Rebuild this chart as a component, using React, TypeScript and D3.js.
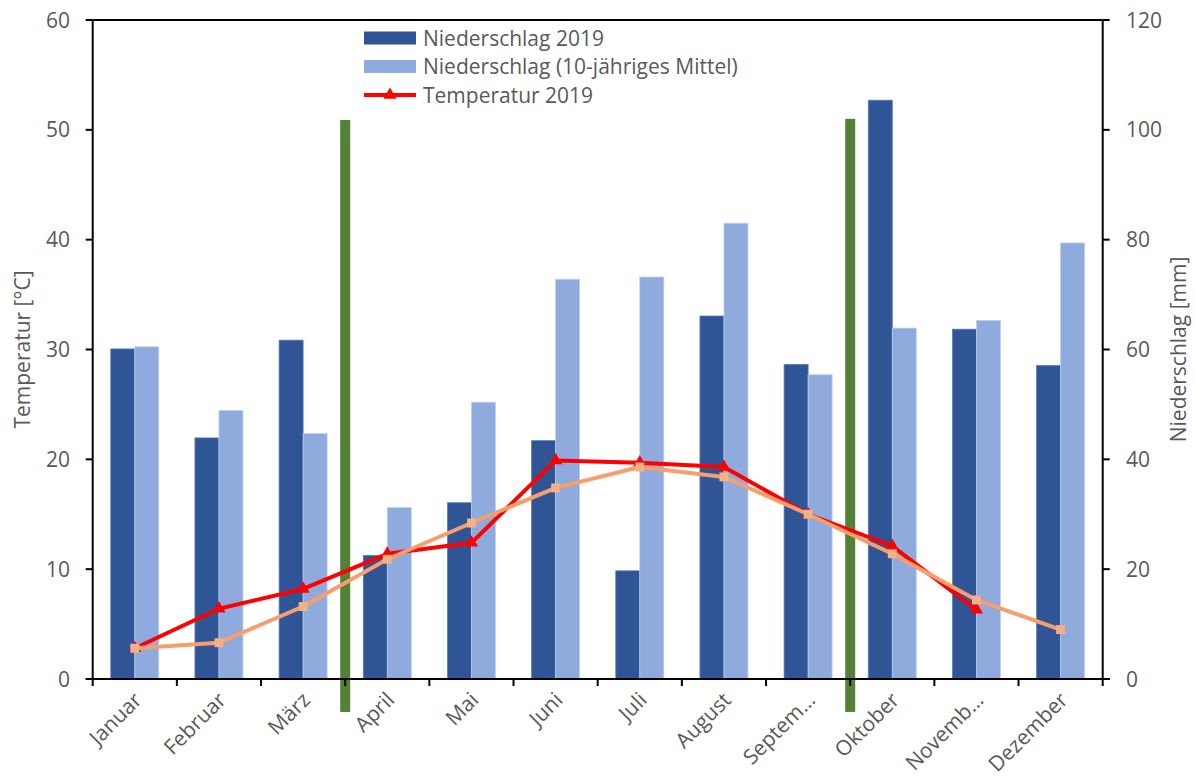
import React from "react";
import * as d3 from "d3";

// Monthly categories (labels as shown on the axis)
const months = [
  "Januar", "Februar", "März", "April", "Mai", "Juni",
  "Juli", "August", "Septem…", "Oktober", "Novemb…", "Dezember",
];

// Precipitation in mm (right axis)
const precip2019 = [60.1, 43.9, 61.7, 22.5, 32.1, 43.4, 19.7, 66.1, 57.3, 105.4, 63.7, 57.1];
const precipMean = [60.5, 48.9, 44.7, 31.2, 50.4, 72.8, 73.2, 83.0, 55.4, 63.9, 65.3, 79.4];

// Temperature in °C (left axis); no value for December 2019
const temp2019: (number | null)[] = [2.8, 6.4, 8.2, 11.4, 12.4, 19.9, 19.7, 19.3, 15.0, 12.1, 6.3, null];
const tempMean = [2.8, 3.3, 6.6, 10.9, 14.2, 17.4, 19.3, 18.4, 15.0, 11.4, 7.2, 4.5];

// Vertical season markers: category boundary index, top and bottom on the °C axis
const seasonMarks = [
  { boundary: 3, top: 50.9, bottom: -3 },
  { boundary: 9, top: 51.0, bottom: -3 },
];

const tempTicks = [0, 10, 20, 30, 40, 50, 60];
const precipTicks = [0, 20, 40, 60, 80, 100, 120];

const legendItems = [
  { label: "Niederschlag 2019", kind: "bar", color: "#2F5597" },
  { label: "Niederschlag (10-jähriges Mittel)", kind: "bar", color: "#8FAADC" },
  { label: "Temperatur 2019", kind: "line", color: "#FF0000" },
];

const W = 1195;
const H = 778;
const left = 92.7;
const right = 1102.7;
const top = 20;
const bottom = 679;

const FONT = "'Open Sans', sans-serif";
const TEXT = "#595959";

export default function App() {
  const x = d3.scaleBand<string>().domain(months).range([left, right]).padding(0);
  const sub = d3
    .scaleBand<string>()
    .domain(["p2019", "pMean"])
    .range([0, x.bandwidth()])
    .paddingInner(0)
    .paddingOuter(0.753);
  const yT = d3.scaleLinear().domain([0, 60]).range([bottom, top]);
  const yP = d3.scaleLinear().domain([0, 120]).range([bottom, top]);
  const cx = (m: string) => (x(m) as number) + x.bandwidth() / 2;

  const lineRed = d3
    .line<number | null>()
    .defined((d) => d !== null)
    .x((_, i) => cx(months[i]))
    .y((d) => yT(d as number));
  const lineOrange = d3
    .line<number>()
    .x((_, i) => cx(months[i]))
    .y((d) => yT(d));

  const tri = d3.symbol().type(d3.symbolTriangle).size(75)();
  const sq = d3.symbol().type(d3.symbolSquare).size(80)();

  const boundaries = d3.range(months.length + 1).map((i) => left + i * x.step());

  return (
    <svg
      width={W}
      height={H}
      style={{ position: "absolute", left: 0, top: 0, background: "#fff" }}
      fontFamily={FONT}
    >
      {/* Bars */}
      {months.map((m, i) => (
        <g key={m} transform={`translate(${x(m)},0)`}>
          <rect
            x={sub("p2019")}
            y={yP(precip2019[i])}
            width={sub.bandwidth()}
            height={bottom - yP(precip2019[i])}
            fill="#2F5597"
            stroke="#5B7DBA"
            strokeWidth={0.8}
          />
          <rect
            x={sub("pMean")}
            y={yP(precipMean[i])}
            width={sub.bandwidth()}
            height={bottom - yP(precipMean[i])}
            fill="#8FAADC"
            stroke="#BFD0EE"
            strokeWidth={0.8}
          />
        </g>
      ))}

      {/* Season markers */}
      {seasonMarks.map((s, i) => (
        <rect
          key={i}
          x={boundaries[s.boundary] - 5}
          y={yT(s.top)}
          width={10}
          height={yT(s.bottom) - yT(s.top)}
          fill="#538135"
        />
      ))}

      {/* Axes */}
      <g stroke="#000" strokeWidth={2} fill="none">
        <line x1={left} x2={left} y1={top} y2={bottom} />
        <line x1={right} x2={right} y1={top} y2={bottom} />
        <line x1={left} x2={right} y1={top} y2={top} />
        <line x1={left - 7} x2={right + 7} y1={bottom} y2={bottom} />
        {tempTicks.map((t) => (
          <line key={"lt" + t} x1={left - 7} x2={left} y1={yT(t)} y2={yT(t)} />
        ))}
        {precipTicks.map((t) => (
          <line key={"rt" + t} x1={right} x2={right + 7} y1={yP(t)} y2={yP(t)} />
        ))}
        {boundaries.map((b, i) => (
          <line key={"xt" + i} x1={b} x2={b} y1={bottom} y2={bottom + 7} />
        ))}
      </g>

      {/* Temperature lines */}
      <path d={lineRed(temp2019) || ""} fill="none" stroke="#FF0000" strokeWidth={4} strokeLinejoin="round" />
      {temp2019.map((v, i) =>
        v === null ? null : (
          <path key={"rm" + i} d={tri || ""} transform={`translate(${cx(months[i])},${yT(v)})`} fill="#FF0000" />
        )
      )}
      <path d={lineOrange(tempMean) || ""} fill="none" stroke="#F89E6C" strokeWidth={4} strokeLinejoin="round" />
      {tempMean.map((v, i) => (
        <path key={"om" + i} d={sq || ""} transform={`translate(${cx(months[i])},${yT(v)})`} fill="#F4B183" />
      ))}

      {/* Tick labels */}
      <g fill={TEXT} fontSize={21}>
        {tempTicks.map((t) => (
          <text key={"ll" + t} x={70} y={yT(t)} dy="0.36em" textAnchor="end">
            {t}
          </text>
        ))}
        {precipTicks.map((t) => (
          <text key={"rl" + t} x={1126} y={yP(t)} dy="0.36em" textAnchor="start">
            {t}
          </text>
        ))}
        {months.map((m) => (
          <text
            key={"ml" + m}
            transform={`translate(${cx(m) + 3},${bottom + 17}) rotate(-45)`}
            textAnchor="end"
            dy="0.36em"
          >
            {m}
          </text>
        ))}
      </g>

      {/* Axis titles */}
      <text
        transform={`translate(22,${(top + bottom) / 2}) rotate(-90)`}
        textAnchor="middle"
        dy="0.36em"
        fontSize={21}
        fill={TEXT}
      >
        Temperatur [°C]
      </text>
      <text
        transform={`translate(1178,${(top + bottom) / 2}) rotate(-90)`}
        textAnchor="middle"
        dy="0.36em"
        fontSize={21}
        fill={TEXT}
      >
        Niederschlag [mm]
      </text>

      {/* Legend */}
      {legendItems.map((it, i) => {
        const yc = 38 + i * 28.5;
        return (
          <g key={it.label}>
            {it.kind === "bar" ? (
              <rect x={364} y={yc - 6.5} width={52} height={13} fill={it.color} />
            ) : (
              <g>
                <line x1={364} x2={416} y1={yc} y2={yc} stroke={it.color} strokeWidth={4} />
                <path d={tri || ""} transform={`translate(390,${yc})`} fill={it.color} />
              </g>
            )}
            <text x={423} y={yc} dy="0.36em" fontSize={21} fill={TEXT}>
              {it.label}
            </text>
          </g>
        );
      })}
    </svg>
  );
}
